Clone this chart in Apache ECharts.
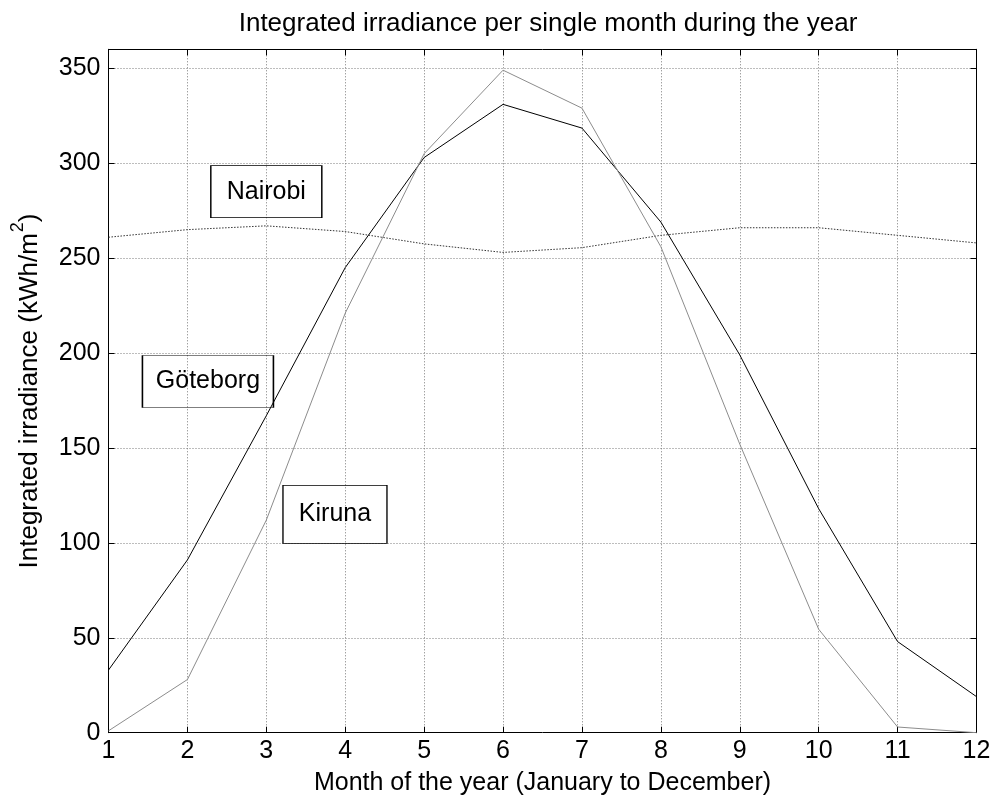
<!DOCTYPE html>
<html>
<head>
<meta charset="utf-8">
<title>Integrated irradiance per single month during the year</title>
<script src="https://cdn.jsdelivr.net/npm/echarts@6/dist/echarts.min.js"></script>
<style>
  html, body { margin: 0; padding: 0; background: #ffffff; }
  #chart { width: 996px; height: 808px; }
</style>
</head>
<body>
<div id="chart"></div>
<script>
// Monthly integrated irradiance, kWh/m^2
const months = [1, 2, 3, 4, 5, 6, 7, 8, 9, 10, 11, 12];
const goteborg = [33, 91, 167, 245, 303, 331, 318.5, 269, 199, 118, 48, 19];
const kiruna = [1, 28, 112, 221, 305, 349, 329, 256, 152, 54.5, 3, 0];
const nairobi = [261, 265, 267, 264, 257.5, 253, 255.5, 262, 266, 266, 262, 258];

const yTicks = [0, 50, 100, 150, 200, 250, 300, 350];

// Boxed site names, anchored in data units (month, kWh/m^2)
const siteNames = ['Nairobi', 'Göteborg', 'Kiruna'];
const siteLabelMonth = [3.0, 2.26, 3.87];
const siteLabelValue = [285, 185, 115];
const siteBoxSize = [[111, 52], [131, 52], [104, 58]];

const FONT = '"Liberation Sans", Arial, sans-serif';
const FS = 25;

const pairs = (ys) => months.map((m, i) => [m, ys[i]]);

const chart = echarts.init(document.getElementById('chart'), null, { renderer: 'canvas' });

const gridLine = { show: true, lineStyle: { color: '#7a7a7a', type: [1, 2], width: 1 } };

const option = {
  backgroundColor: '#ffffff',
  animation: false,
  textStyle: { fontFamily: FONT },
  title: {
    text: 'Integrated irradiance per single month during the year',
    left: 543, top: 6, textAlign: 'center',
    textStyle: { fontFamily: FONT, fontSize: 26, fontWeight: 'normal', color: '#000' }
  },
  grid: { left: 108.5, right: 19.5, top: 49.3, bottom: 75.3 },
  xAxis: [{
    type: 'value', min: 1, max: 12, interval: 1,
    name: 'Month of the year (January to December)',
    nameLocation: 'middle', nameGap: 38,
    nameTextStyle: { fontFamily: FONT, fontSize: FS, color: '#000' },
    axisLine: { show: true, onZero: false, lineStyle: { color: '#000', width: 1 } },
    axisTick: { show: true, inside: true, length: 6, lineStyle: { color: '#000' } },
    axisLabel: { fontFamily: FONT, fontSize: FS, color: '#000', margin: 6 },
    splitLine: gridLine
  }, {
    type: 'value', min: 1, max: 12, interval: 1, position: 'top',
    axisLine: { show: true, onZero: false, lineStyle: { color: '#000', width: 1 } },
    axisTick: { show: true, inside: true, length: 6, lineStyle: { color: '#000' } },
    axisLabel: { show: false },
    splitLine: { show: false }
  }],
  yAxis: [{
    type: 'value', min: 0, max: 360, interval: 50,
    name: '{t|Integrated irradiance (kWh/m}{s|2}{t|)}',
    nameLocation: 'middle', nameGap: 66, nameRotate: 90,
    nameTextStyle: {
      fontFamily: FONT, color: '#000',
      rich: {
        t: { fontFamily: FONT, fontSize: 26, color: '#000', lineHeight: 33, verticalAlign: 'bottom' },
        s: { fontFamily: FONT, fontSize: 18, color: '#000', lineHeight: 33, verticalAlign: 'top', padding: [0, 0, 0, 1] }
      }
    },
    axisLine: { show: true, onZero: false, lineStyle: { color: '#000', width: 1 } },
    axisTick: { show: true, inside: true, length: 6, lineStyle: { color: '#000' } },
    axisLabel: {
      fontFamily: FONT, fontSize: FS, color: '#000', margin: 8,
      showMaxLabel: false,
      formatter: (v) => (yTicks.indexOf(v) >= 0 ? String(v) : '')
    },
    splitLine: gridLine
  }, {
    type: 'value', min: 0, max: 360, interval: 50, position: 'right',
    axisLine: { show: true, onZero: false, lineStyle: { color: '#000', width: 1 } },
    axisTick: { show: true, inside: true, length: 6, lineStyle: { color: '#000' } },
    axisLabel: { show: false },
    splitLine: { show: false }
  }],
  series: [
    {
      name: 'Nairobi', type: 'line', data: pairs(nairobi),
      symbol: 'none', silent: true,
      lineStyle: { color: '#333', width: 1, type: [1.5, 1.5] },
      markPoint: {
        silent: true,
        data: siteNames.map((n, i) => ({
          name: n,
          coord: [siteLabelMonth[i], siteLabelValue[i]],
          symbol: 'rect',
          symbolSize: siteBoxSize[i],
          itemStyle: { color: 'rgba(0,0,0,0)', borderColor: '#000', borderWidth: 1 },
          label: {
            show: true, position: 'inside', formatter: n,
            fontFamily: FONT, fontSize: FS, color: '#000'
          }
        }))
      }
    },
    {
      name: 'Göteborg', type: 'line', data: pairs(goteborg),
      symbol: 'none', silent: true,
      lineStyle: { color: '#000', width: 1 }
    },
    {
      name: 'Kiruna', type: 'line', data: pairs(kiruna),
      symbol: 'none', silent: true,
      lineStyle: { color: '#8c8c8c', width: 1 }
    }
  ]
};

chart.setOption(option);
</script>
</body>
</html>
